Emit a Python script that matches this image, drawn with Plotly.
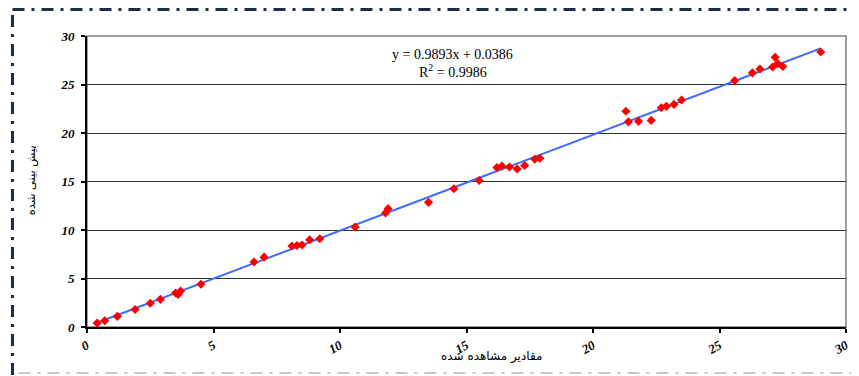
import numpy as np
import plotly.graph_objects as go

# Observed (x) vs predicted (y) values
observed = [0.4, 0.7, 1.2, 1.9, 2.5, 2.9, 3.5, 3.6, 3.7, 4.5,
            6.6, 7.0, 8.1, 8.3, 8.5, 8.8, 9.2, 10.6, 11.8, 11.9,
            13.5, 14.5, 15.5, 16.2, 16.4, 16.7, 17.0, 17.3, 17.7, 17.9,
            21.3, 21.4, 21.8, 22.3, 22.7, 22.9, 23.2, 23.5,
            25.6, 26.3, 26.6, 27.1, 27.2, 27.3, 27.5, 29.0]
predicted = [0.4, 0.65, 1.1, 1.8, 2.45, 2.85, 3.5, 3.35, 3.7, 4.4,
             6.7, 7.2, 8.35, 8.4, 8.45, 9.0, 9.1, 10.3, 11.75, 12.2,
             12.85, 14.25, 15.1, 16.45, 16.6, 16.5, 16.3, 16.65, 17.3, 17.4,
             22.25, 21.15, 21.2, 21.3, 22.6, 22.75, 22.95, 23.4,
             25.4, 26.2, 26.6, 26.8, 27.8, 27.15, 26.85, 28.35]
slope = 0.9893
intercept = 0.0386
x_ticks = [0, 5, 10, 15, 20, 25, 30]
y_ticks = [0, 5, 10, 15, 20, 25, 30]
eq_line1 = "y = 0.9893x + 0.0386"
eq_line2 = "R<sup>2</sup> = 0.9986"
x_title = "مقادیر مشاهده شده"
y_title = "پیش بینی شده"

# The page body adds an 8px margin, so the figure is drawn 8px smaller and
# all layout positions are expressed relative to the 859x376 viewport.
OFF = 8
VW, VH = 859, 376
W, H = VW - OFF, VH - OFF
PL, PR, PT, PB = 87, 851, 36, 327  # plot area in viewport pixels
L, T = PL - OFF, PT - OFF
R = W - (PR - OFF)
B = H - (PB - OFF)
pw, ph = PR - PL, PB - PT

def px_x(p):
    return (p - PL) / pw

def px_y(p):
    return (PB - p) / ph

fig = go.Figure()
xl = np.array([min(observed), max(observed)])
fig.add_trace(go.Scatter(
    x=xl, y=slope * xl + intercept, mode="lines",
    line=dict(color="#3d6bff", width=2), showlegend=False))
fig.add_trace(go.Scatter(
    x=observed, y=predicted, mode="markers",
    marker=dict(symbol="diamond", size=7, color="#ff0000"),
    showlegend=False, cliponaxis=False))

tick_font = dict(family="Liberation Serif", size=13, color="black",
                 weight=700, style="italic")
fig.update_xaxes(range=[0, 30], tickvals=x_ticks, showgrid=False,
                 showline=True, linecolor="black", linewidth=2,
                 ticks="outside", ticklen=4, tickwidth=2, tickcolor="black",
                 tickangle=-30, tickfont=tick_font, zeroline=False)
fig.update_yaxes(range=[0, 30], tickvals=y_ticks, showgrid=True,
                 gridcolor="#333333", gridwidth=1,
                 showline=True, linecolor="black", linewidth=2,
                 ticks="outside", ticklen=4, tickwidth=2, tickcolor="black",
                 ticklabelstandoff=4,
                 tickfont=tick_font, zeroline=False)

dash = "12px,7px,3px,7px"
shapes = [
    dict(type="rect", xref="paper", yref="paper", x0=0, x1=1, y0=0, y1=1,
         line=dict(color="#7f7f7f", width=1.5), layer="below"),
    dict(type="line", xref="paper", yref="paper",
         x0=px_x(12), x1=px_x(VW + 5), y0=px_y(9.5), y1=px_y(9.5),
         line=dict(color="#1c2e45", width=3, dash=dash)),
    dict(type="line", xref="paper", yref="paper",
         x0=px_x(12), x1=px_x(12), y0=px_y(15), y1=px_y(VH + 5),
         line=dict(color="#1c2e45", width=3, dash=dash)),
    dict(type="line", xref="paper", yref="paper",
         x0=px_x(18), x1=px_x(VW + 5), y0=px_y(373), y1=px_y(373),
         line=dict(color="#c8c8c8", width=2, dash=dash)),
]

eq_font = dict(family="Liberation Serif", size=14, color="black")
annotations = [
    dict(text=eq_line1, xref="paper", yref="paper", x=px_x(455), y=px_y(54),
         xanchor="center", yanchor="middle", showarrow=False, font=eq_font,
         borderpad=0),
    dict(text=eq_line2, xref="paper", yref="paper", x=px_x(455), y=px_y(71),
         xanchor="center", yanchor="middle", showarrow=False, font=eq_font,
         borderpad=0),
    dict(text=x_title, xref="paper", yref="paper", x=px_x(494), y=px_y(356),
         xanchor="center", yanchor="middle", showarrow=False,
         font=dict(family="DejaVu Sans", size=12, color="black")),
    dict(text=y_title, xref="paper", yref="paper", x=px_x(31), y=px_y(180),
         xanchor="center", yanchor="middle", showarrow=False, textangle=-90,
         font=dict(family="DejaVu Sans", size=11.5, color="black")),
]

fig.update_layout(width=W, height=H, margin=dict(l=L, r=R, t=T, b=B),
                  paper_bgcolor="white", plot_bgcolor="white",
                  shapes=shapes, annotations=annotations, showlegend=False)
fig.write_html("out.html")
